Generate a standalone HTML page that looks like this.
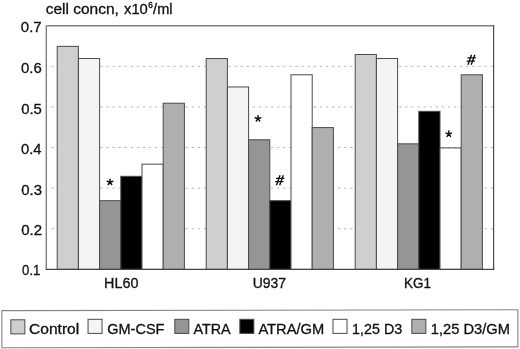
<!DOCTYPE html>
<html><head><meta charset="utf-8"><style>
html,body{margin:0;padding:0;background:#fff;}
body{width:520px;height:349px;overflow:hidden;}
svg{display:block;filter:grayscale(1) blur(0.3px);}
.s{font-family:"Liberation Sans",sans-serif;font-size:8.2px;fill:#111;stroke:#111;stroke-width:0.4px;}
.t{font-family:"Liberation Sans",sans-serif;font-size:14px;fill:#111;stroke:#111;stroke-width:0.3px;}
</style></head><body>
<svg width="520" height="349" viewBox="0 0 520 349">
<line x1="51.35" y1="66.32" x2="492.80" y2="66.32" stroke="#b8b8b8" stroke-width="1" stroke-dasharray="2.4 3.7"/>
<line x1="51.35" y1="106.93" x2="492.80" y2="106.93" stroke="#b8b8b8" stroke-width="1" stroke-dasharray="2.4 3.7"/>
<line x1="51.35" y1="147.55" x2="492.80" y2="147.55" stroke="#b8b8b8" stroke-width="1" stroke-dasharray="2.4 3.7"/>
<line x1="51.35" y1="188.17" x2="492.80" y2="188.17" stroke="#b8b8b8" stroke-width="1" stroke-dasharray="2.4 3.7"/>
<line x1="51.35" y1="228.78" x2="492.80" y2="228.78" stroke="#b8b8b8" stroke-width="1" stroke-dasharray="2.4 3.7"/>
<rect x="57.20" y="46.36" width="21.20" height="223.04" fill="#cfcfcf" stroke="#4a4a4a" stroke-width="1"/>
<rect x="78.40" y="58.54" width="21.20" height="210.86" fill="#f4f4f4" stroke="#4a4a4a" stroke-width="1"/>
<rect x="99.60" y="200.70" width="21.20" height="68.70" fill="#959595" stroke="#4a4a4a" stroke-width="1"/>
<rect x="120.80" y="176.33" width="21.20" height="93.07" fill="#000000" stroke="#4a4a4a" stroke-width="1"/>
<rect x="142.00" y="164.15" width="21.20" height="105.25" fill="#ffffff" stroke="#4a4a4a" stroke-width="1"/>
<rect x="163.20" y="103.22" width="21.20" height="166.18" fill="#afafaf" stroke="#4a4a4a" stroke-width="1"/>
<rect x="206.20" y="58.54" width="21.20" height="210.86" fill="#cfcfcf" stroke="#4a4a4a" stroke-width="1"/>
<rect x="227.40" y="86.97" width="21.20" height="182.43" fill="#f4f4f4" stroke="#4a4a4a" stroke-width="1"/>
<rect x="248.60" y="139.78" width="21.20" height="129.62" fill="#959595" stroke="#4a4a4a" stroke-width="1"/>
<rect x="269.80" y="200.70" width="21.20" height="68.70" fill="#000000" stroke="#4a4a4a" stroke-width="1"/>
<rect x="291.00" y="74.79" width="21.20" height="194.61" fill="#ffffff" stroke="#4a4a4a" stroke-width="1"/>
<rect x="312.20" y="127.59" width="21.20" height="141.81" fill="#afafaf" stroke="#4a4a4a" stroke-width="1"/>
<rect x="355.20" y="54.48" width="21.20" height="214.92" fill="#cfcfcf" stroke="#4a4a4a" stroke-width="1"/>
<rect x="376.40" y="58.54" width="21.20" height="210.86" fill="#f4f4f4" stroke="#4a4a4a" stroke-width="1"/>
<rect x="397.60" y="143.84" width="21.20" height="125.56" fill="#959595" stroke="#4a4a4a" stroke-width="1"/>
<rect x="418.80" y="111.34" width="21.20" height="158.06" fill="#000000" stroke="#4a4a4a" stroke-width="1"/>
<rect x="440.00" y="147.90" width="21.20" height="121.50" fill="#ffffff" stroke="#4a4a4a" stroke-width="1"/>
<rect x="461.20" y="74.79" width="21.20" height="194.61" fill="#afafaf" stroke="#4a4a4a" stroke-width="1"/>
<line x1="46.3" y1="25.7" x2="493.6" y2="25.7" stroke="#808080" stroke-width="1.4"/>
<line x1="46.3" y1="25.7" x2="46.3" y2="269.4" stroke="#808080" stroke-width="1.4"/>
<line x1="493.6" y1="25.0" x2="493.6" y2="270.09999999999997" stroke="#4a4a4a" stroke-width="1.2"/>
<line x1="45.599999999999994" y1="269.4" x2="494.3" y2="269.4" stroke="#444" stroke-width="1.4"/>
<text transform="translate(20.84,32.41) scale(1.0675,1)" class="t">0.7</text>
<text transform="translate(21.03,72.55) scale(1.0668,1)" class="t">0.6</text>
<text transform="translate(21.15,113.71) scale(1.0639,1)" class="t">0.5</text>
<text transform="translate(21.02,153.82) scale(1.0563,1)" class="t">0.4</text>
<text transform="translate(21.28,194.77) scale(1.0657,1)" class="t">0.3</text>
<text transform="translate(21.28,234.57) scale(1.0729,1)" class="t">0.2</text>
<text transform="translate(22.10,275.20) scale(0.9402,1)" class="t">0.1</text>
<text transform="translate(104.11,288.40) scale(1.0245,1)" class="t">HL60</text>
<text transform="translate(252.73,287.53) scale(0.9957,1)" class="t">U937</text>
<text transform="translate(404.09,288.40) scale(0.9636,1)" class="t">KG1</text>
<path d="M110.00 182.20L110.00 179.30M110.00 182.20L112.76 181.30M110.00 182.20L111.70 184.55M110.00 182.20L108.30 184.55M110.00 182.20L107.24 181.30" stroke="#111" stroke-width="1.5" stroke-linecap="round" fill="none"/>
<path d="M258.00 118.60L258.00 115.70M258.00 118.60L260.76 117.70M258.00 118.60L259.70 120.95M258.00 118.60L256.30 120.95M258.00 118.60L255.24 117.70" stroke="#111" stroke-width="1.5" stroke-linecap="round" fill="none"/>
<path d="M448.80 134.00L448.80 131.10M448.80 134.00L451.56 133.10M448.80 134.00L450.50 136.35M448.80 134.00L447.10 136.35M448.80 134.00L446.04 133.10" stroke="#111" stroke-width="1.5" stroke-linecap="round" fill="none"/>
<path d="M280.00 175.20l-3.5 10M283.30 175.20l-3.6 10M276.00 178.40h8.4M275.20 181.65h8.3" stroke="#111" stroke-width="1.4" fill="none"/>
<path d="M471.50 54.70l-3.5 10M474.80 54.70l-3.6 10M467.50 57.90h8.4M466.70 61.15h8.3" stroke="#111" stroke-width="1.4" fill="none"/>
<text transform="translate(45.67,14.28) scale(1.1072,1)" class="t">cell concn,</text>
<text transform="translate(124.04,13.54) scale(1.0536,1)" class="t">x10</text>
<text transform="translate(148.20,7.60) scale(1.0000,1)" class="s">6</text>
<text transform="translate(153.08,13.64) scale(1.0436,1)" class="t">/ml</text>
<path d="M1.9 310.6L517.9 309.8L517.9 346.9L1.9 347.8Z" fill="none" stroke="#858585" stroke-width="1.1"/>
<rect x="10.85" y="319.80" width="14.0" height="14.1" fill="#cfcfcf" stroke="#4a4a4a" stroke-width="1"/>
<text transform="translate(29.01,334.00) scale(1.1125,1)" class="t">Control</text>
<rect x="88.05" y="319.30" width="14.0" height="14.1" fill="#f4f4f4" stroke="#4a4a4a" stroke-width="1"/>
<text transform="translate(107.25,334.00) scale(1.0376,1)" class="t">GM-CSF</text>
<rect x="174.80" y="319.30" width="14.0" height="14.1" fill="#959595" stroke="#4a4a4a" stroke-width="1"/>
<text transform="translate(193.42,334.00) scale(1.0257,1)" class="t">ATRA</text>
<rect x="239.85" y="319.30" width="14.0" height="14.1" fill="#000000" stroke="#4a4a4a" stroke-width="1"/>
<text transform="translate(258.41,334.00) scale(1.0498,1)" class="t">ATRA/GM</text>
<rect x="333.00" y="319.30" width="14.0" height="14.1" fill="#ffffff" stroke="#4a4a4a" stroke-width="1"/>
<text transform="translate(352.12,334.00) scale(1.0225,1)" class="t">1,25 D3</text>
<rect x="411.85" y="319.30" width="14.0" height="14.1" fill="#afafaf" stroke="#4a4a4a" stroke-width="1"/>
<text transform="translate(430.84,334.00) scale(1.0496,1)" class="t">1,25 D3/GM</text>
</svg>
</body></html>
